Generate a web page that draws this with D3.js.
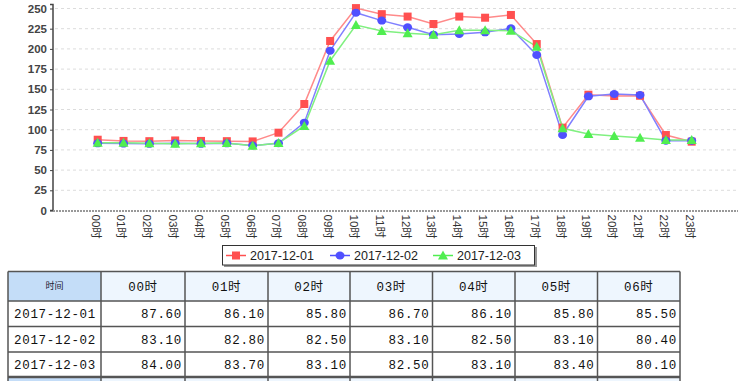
<!DOCTYPE html>
<html><head><meta charset="utf-8">
<script src="https://cdn.jsdelivr.net/npm/d3@7/dist/d3.min.js"></script>
<style>
html,body{margin:0;padding:0;background:#fff;}
svg{display:block;}
</style></head>
<body>
<svg id="chart" width="750" height="381"></svg>
<script>
const hours = ["00时","01时","02时","03时","04时","05时","06时","07时","08时","09时","10时","11时","12时","13时","14时","15时","16时","17时","18时","19时","20时","21时","22时","23时"];
const seriesNames = ["2017-12-01","2017-12-02","2017-12-03"];
const s1 = [87.6,86.1,85.8,86.7,86.1,85.8,85.5,96.3,131.8,209.8,250.5,243,240,230.8,240,238.6,242,206,102.5,143.3,141.7,142,93.4,85.2];
const s2 = [83.1,82.8,82.5,83.1,82.5,83.1,80.4,83.2,108.7,197.8,244.8,235,226.7,217.6,218.4,220.5,225.5,192.4,93.4,141.3,144.2,143,86.4,86.4];
const s3 = [84.0,83.7,83.1,82.5,83.1,83.4,80.1,83.6,104.6,185.4,229.6,222.2,219.3,217.6,223,223,222.5,202.7,101.7,94.7,92.2,90.1,87.3,87.3];
const yTicks = [0,25,50,75,100,125,150,175,200,225,250];
const tableCols = 7;
const tableHeader = "时间";

const colors = ["#ff5050","#5050ff","#50ee50"];
const lineColors = ["#ff8a8a","#8080ff","#80f080"];
const series = [s1,s2,s3];

const svg = d3.select("#chart");
const x = d3.scalePoint().domain(hours).range([97.7, 691.7]);
const y = d3.scaleLinear().domain([0,250]).range([210.5, 8.5]);
const plotLeft = 53, plotRight = 738;

// gridlines
svg.append("g").selectAll("line").data(yTicks.filter(d=>d>0)).join("line")
  .attr("x1", plotLeft+2).attr("x2", plotRight)
  .attr("y1", d=>y(d)).attr("y2", d=>y(d))
  .attr("stroke","#dcdcdc").attr("stroke-dasharray","3,3").attr("stroke-width",1);

// y axis
const yAxis = d3.axisLeft(y).tickValues(yTicks).tickSize(3).tickPadding(3);
const gy = svg.append("g").attr("transform",`translate(${plotLeft},0)`).call(yAxis);
gy.select(".domain").attr("stroke","#444").attr("stroke-width",1.5).attr("d",`M-3,4.5H0V${y(0)}H-3`);
gy.selectAll(".tick line").attr("stroke","#444");
gy.selectAll("text").attr("font-family","Liberation Sans, Arial, sans-serif").attr("font-size",11.5).attr("font-weight","bold").attr("fill","#444");

// x axis baseline
svg.append("line").attr("x1",plotLeft).attr("x2",plotRight).attr("y1",y(0)+0.5).attr("y2",y(0)+0.5)
  .attr("stroke","#999").attr("stroke-width",2).attr("stroke-dasharray","2,1");

// x labels
const xAxis = d3.axisBottom(x).tickSize(0);
const gx = svg.append("g").attr("transform",`translate(0,${y(0)})`).call(xAxis);
gx.select(".domain").remove();
gx.selectAll("text")
  .attr("font-family","Liberation Sans, 'Noto Sans CJK SC', sans-serif").attr("font-size",11.5).attr("fill","#333")
  .attr("text-anchor","start").attr("dy","0.35em")
  .attr("transform","translate(-2.5,4) rotate(90)").attr("y",0).attr("x",0);

// lines
const line = d3.line().x((d,i)=>x(hours[i])).y(d=>y(d));
series.forEach((s,k)=>{
  svg.append("path").datum(s).attr("d",line).attr("fill","none")
    .attr("stroke",lineColors[k]).attr("stroke-width",1.5);
});
function marker(g,k,cx,cy){
  if(k===0) g.append("rect").attr("x",cx-4).attr("y",cy-4).attr("width",8).attr("height",8).attr("fill",colors[0]);
  else if(k===1) g.append("ellipse").attr("cx",cx).attr("cy",cy).attr("rx",4.5).attr("ry",4).attr("fill",colors[1]);
  else g.append("path").attr("d",`M${cx},${cy-5}L${cx+5},${cy+4}L${cx-5},${cy+4}Z`).attr("fill",colors[2]);
}
series.forEach((s,k)=>{
  const g = svg.append("g");
  s.forEach((v,i)=>marker(g,k,x(hours[i]),y(v)));
});

// legend
const lg = svg.append("g");
lg.append("rect").attr("x",224).attr("y",247).attr("width",313).attr("height",20).attr("fill","#999");
lg.append("rect").attr("x",222.5).attr("y",245.5).attr("width",312).attr("height",19.5).attr("fill","#fff").attr("stroke","#333").attr("stroke-width",1);
const legX = [226, 330, 433];
seriesNames.forEach((n,k)=>{
  const lx = legX[k], ly = 255.5;
  lg.append("line").attr("x1",lx).attr("x2",lx+20).attr("y1",ly).attr("y2",ly).attr("stroke",colors[k]).attr("stroke-width",1.5);
  marker(lg,k,lx+10,ly);
  lg.append("text").attr("x",lx+24).attr("y",ly).attr("dy","0.36em")
    .attr("font-family","Liberation Sans, Arial, sans-serif").attr("font-size",12.5).attr("fill","#222").text(n);
});

// table
const colEdges = [8,101,185,268,350,432.5,515,597.5,680];
const rowEdges = [271.5,301,326.5,352,377,381];
const tg = svg.append("g");
tg.append("rect").attr("x",colEdges[0]).attr("y",rowEdges[0]).attr("width",colEdges[1]-colEdges[0]).attr("height",rowEdges[1]-rowEdges[0]).attr("fill","#c4ddf8");
tg.append("rect").attr("x",colEdges[1]).attr("y",rowEdges[0]).attr("width",colEdges[8]-colEdges[1]).attr("height",rowEdges[1]-rowEdges[0]).attr("fill","#eef6fe");
tg.append("rect").attr("x",colEdges[0]).attr("y",rowEdges[4]).attr("width",colEdges[1]-colEdges[0]).attr("height",10).attr("fill","#c4ddf8");
tg.append("rect").attr("x",colEdges[1]).attr("y",rowEdges[4]).attr("width",colEdges[8]-colEdges[1]).attr("height",10).attr("fill","#eef6fe");
colEdges.forEach(cx=>{
  tg.append("line").attr("x1",cx).attr("x2",cx).attr("y1",rowEdges[0]).attr("y2",381).attr("stroke","#555").attr("stroke-width",1.5);
});
rowEdges.slice(0,5).forEach((ry,i)=>{
  tg.append("line").attr("x1",colEdges[0]).attr("x2",colEdges[8]).attr("y1",ry).attr("y2",ry).attr("stroke","#555").attr("stroke-width",i===4?2.5:1.5);
});
const mono = "'Liberation Mono', 'DejaVu Sans Mono', monospace";
tg.append("text").attr("x",(colEdges[0]+colEdges[1])/2).attr("y",(rowEdges[0]+rowEdges[1])/2).attr("dy","0.36em")
  .attr("text-anchor","middle").attr("font-family","'Noto Sans CJK SC', sans-serif").attr("font-size",9).attr("fill","#223").text(tableHeader);
hours.slice(0,tableCols).forEach((h,j)=>{
  tg.append("text").attr("x",(colEdges[j+1]+colEdges[j+2])/2).attr("y",(rowEdges[0]+rowEdges[1])/2).attr("dy","0.36em")
    .attr("text-anchor","middle").attr("font-family",mono+", 'Noto Sans CJK SC'").attr("font-size",12.5).attr("letter-spacing",0.6).attr("fill","#111").text(h);
});
series.forEach((s,r)=>{
  const cy = (rowEdges[r+1]+rowEdges[r+2])/2;
  tg.append("text").attr("x",colEdges[0]+6).attr("y",cy).attr("dy","0.36em")
    .attr("font-family",mono).attr("font-size",12.5).attr("letter-spacing",0.7).attr("fill","#111").text(seriesNames[r]);
  s.slice(0,tableCols).forEach((v,j)=>{
    tg.append("text").attr("x",colEdges[j+2]-3).attr("y",cy).attr("dy","0.36em")
      .attr("text-anchor","end").attr("font-family",mono).attr("font-size",12.5).attr("letter-spacing",0.7).attr("fill","#111").text(v.toFixed(2));
  });
});
</script>
</body></html>
